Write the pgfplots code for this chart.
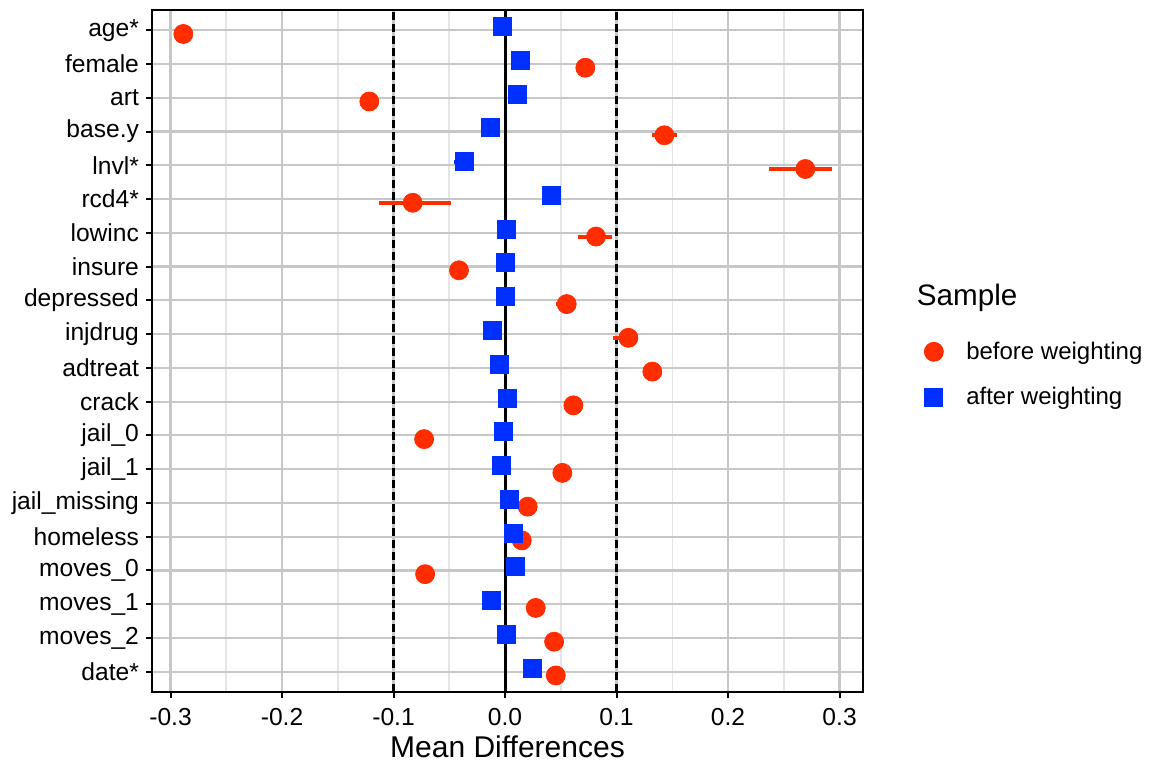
\documentclass[border=0pt]{standalone}
\usepackage{pgfplots}
\pgfplotsset{compat=1.18}
\usepackage{pgfplotstable}
\usepackage{fontspec}
\setmainfont{Liberation Sans}
\definecolor{myred}{RGB}{255,45,0}
\definecolor{myblue}{RGB}{0,48,255}
\pgfplotstableread{
y x ep em
20 -0.2885 0 0
19 0.072 0 0
18 -0.1217 0 0
17 0.1429 0.0117 0.0113
16 0.2693 0.0237 0.0328
15 -0.0828 0.0341 0.0299
14 0.0816 0.0146 0.0158
13 -0.0413 0 0
12 0.0553 0.004 0.0096
11 0.1106 0.006 0.0136
10 0.1321 0 0
9 0.0613 0 0
8 -0.0726 0 0
7 0.0514 0 0
6 0.0203 0 0
5 0.015 0 0
4 -0.0717 0.0087 0.003
3 0.0275 0 0
2 0.044 0.003 0.008
1 0.0455 0 0
}\before
\pgfplotstableread{
y x ep em
20 -0.002 0 0
19 0.0135 0 0
18 0.0114 0 0
17 -0.0135 0 0
16 -0.0368 0.005 0.009
15 0.0413 0 0
14 0.001 0 0
13 0.0006 0 0
12 0.0 0 0
11 -0.011 0 0
10 -0.005 0 0
9 0.002 0 0
8 -0.0015 0 0
7 -0.003 0 0
6 0.004 0 0
5 0.0075 0 0
4 0.009 0 0
3 -0.012 0 0
2 0.001 0 0
1 0.0242 0 0
}\after
\begin{document}
\begin{tikzpicture}
\path[use as bounding box] (0,0) rectangle (575.5pt,381.5pt);
\begin{axis}[
  at={(76pt,35.5pt)}, anchor=south west,
  scale only axis, width=355.5pt, height=341pt,
  xmin=-0.3166, xmax=0.321, ymin=0.4, ymax=20.6,
  xtick={-0.3,-0.2,-0.1,0,0.1,0.2,0.3},
  xticklabels={-0.3,-0.2,-0.1,0.0,0.1,0.2,0.3},
  minor xtick={-0.25,-0.15,-0.05,0.05,0.15,0.25},
  ytick={1,2,...,20},
  yticklabels={date*,moves\_2,moves\_1,moves\_0,homeless,jail\_missing,jail\_1,jail\_0,crack,adtreat,injdrug,depressed,insure,lowinc,rcd4*,lnvl*,base.y,art,female,age*},
  grid=both,
  major grid style={black!22, line width=1.1pt},
  minor grid style={black!10, line width=0.8pt},
  tick align=outside, major tick length=3pt, minor tick length=0pt,
  tick style={black, line width=1pt},
  axis line style={black, line width=1pt},
  xtick pos=bottom, ytick pos=left,
  tick label style={font=\fontsize{12.3}{14}\selectfont, text=black},
  xticklabel style={yshift=-1.5pt},
  yticklabel style={xshift=0pt},
  /pgf/number format/assume math mode=true,
  xlabel={Mean Differences},
  xlabel style={font=\fontsize{15}{17}\selectfont, at={(axis description cs:0.5,0)}, anchor=center, yshift=-27.5pt},
  legend cell align=left,
  legend image code/.code={\path (0pt,0pt) (24pt,0pt); \draw[#1] plot coordinates {(10pt,0pt)};},
  legend style={at={(axis description cs:1.062,0.4655)}, anchor=west, draw=none, fill=none,
    font=\fontsize{12}{14}\selectfont, row sep=8.5pt},
  clip=false,
]
\addplot[forget plot, black, line width=1.5pt, dash pattern=on 4pt off 2pt] coordinates {(-0.1,0.4) (-0.1,20.6)};
\addplot[forget plot, black, line width=1.5pt, dash pattern=on 4pt off 2pt] coordinates {(0.1,0.4) (0.1,20.6)};
\addplot[forget plot, black, line width=1.5pt] coordinates {(0,0.4) (0,20.6)};
\addplot[only marks, mark=*, mark size=4.75pt, color=myred, mark options={fill=myred, draw=none},
  error bars/.cd, x dir=both, x explicit, error mark=none, error bar style={line width=2pt, myred}]
  table[x=x, y expr=\thisrow{y}-0.11, x error plus=ep, x error minus=em] {\before};
\addlegendentry{before weighting}
\addplot[only marks, mark=square*, mark size=4.5pt, color=myblue, mark options={fill=myblue, draw=none},
  error bars/.cd, x dir=both, x explicit, error mark=none, error bar style={line width=2pt, myblue}]
  table[x=x, y expr=\thisrow{y}+0.11, x error plus=ep, x error minus=em] {\after};
\addlegendentry{after weighting}
\node[anchor=west, font=\fontsize{14.8}{17}\selectfont] at (axis description cs:1.066,0.5777) {Sample};
\end{axis}
\end{tikzpicture}
\end{document}
